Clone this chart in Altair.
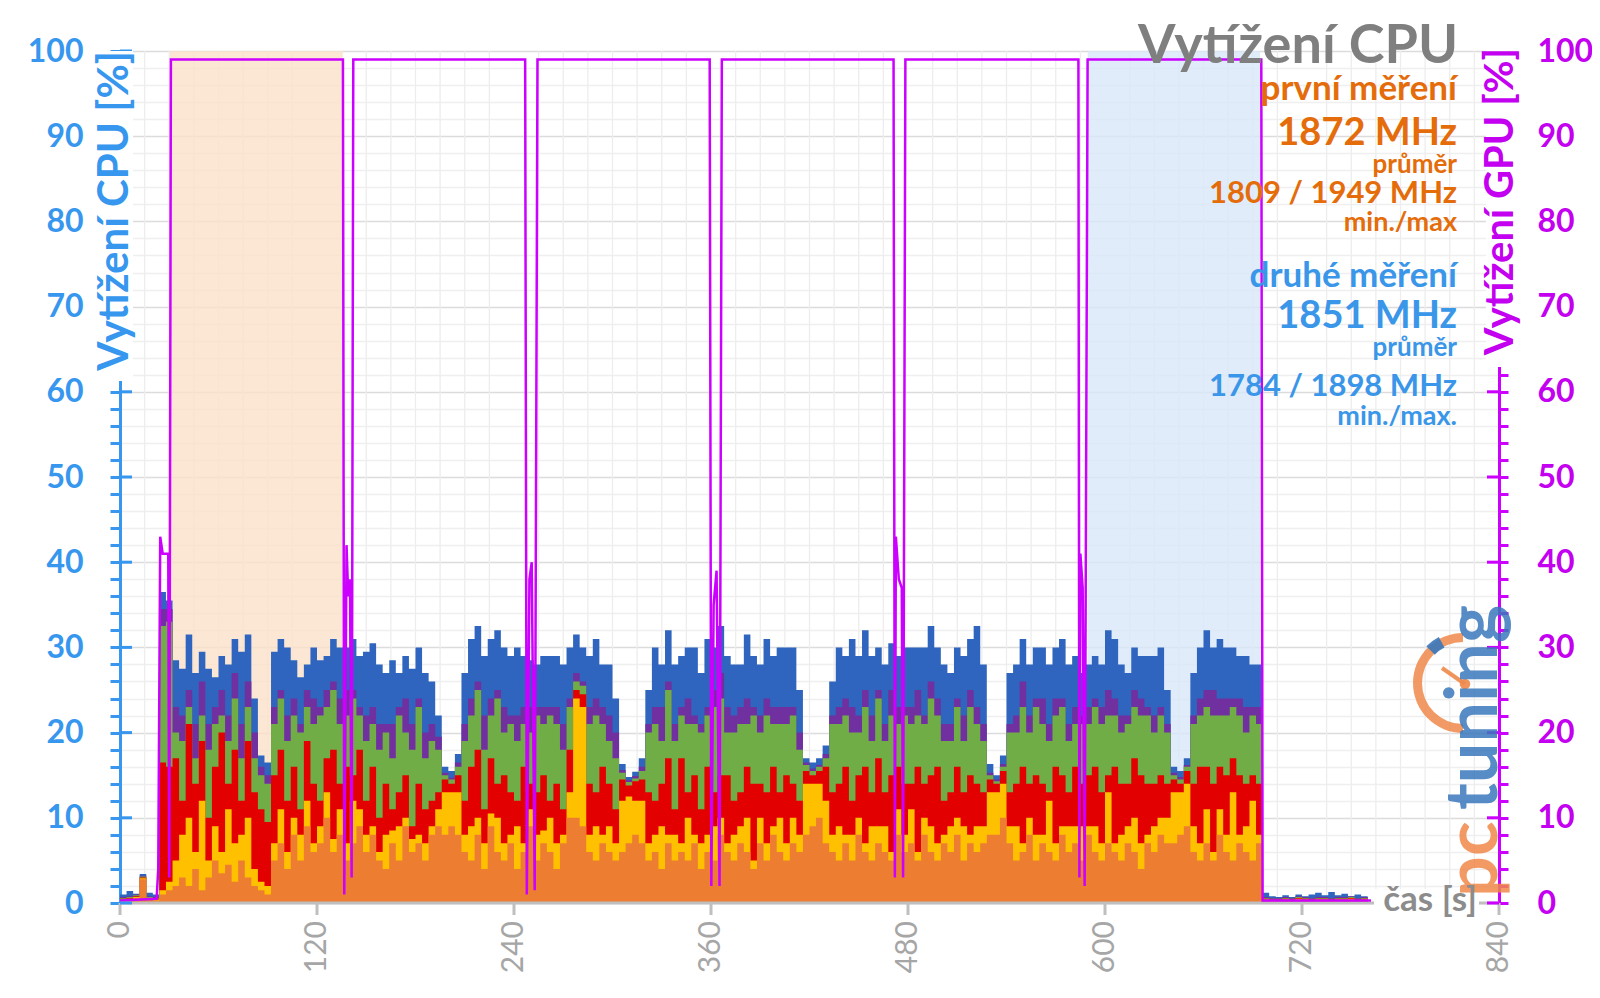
import math
import altair as alt
import pandas as pd

W, H = 1379, 852
X_DOMAIN = [0, 840]
Y_DOMAIN = [0, 100]

# sampling times (s)
t_sec = list(range(0, 761, 4))

# CPU load: upper edge of each stacked band (cumulative %), bottom band -> top band
top_orange = [0.3, 0.4, 0.6, 2.8, 0.4, 0.3,
              1, 1.5,
              2, 3, 2, 4, 1.5, 3, 5, 3.5, 4.5, 2.5, 5, 3, 2,
              1.5, 1,
              5, 7, 4, 8, 5, 9, 6, 7, 10, 6, 8, 5, 7, 9, 6, 8, 5, 4, 7, 5, 9, 6, 7, 5, 8, 9,
              8, 9, 8,
              6, 5, 8, 4, 9, 6, 5, 7, 4, 6, 9, 5, 7, 6, 4, 7, 10, 10, 9, 6, 5, 7, 6, 5,
              6, 7, 8, 7,
              5, 6, 4, 7, 5, 6, 5, 7, 4, 6, 5, 8, 6, 5, 7, 6, 4, 7, 5, 8, 6, 5, 7, 6,
              8, 9, 10, 7,
              6, 5, 7, 5, 8, 6, 5, 7, 6, 5, 8, 6, 7, 5, 8, 6, 5, 7, 6, 8, 5, 7, 6, 7,
              8, 8, 10,
              7, 5, 6, 8, 5, 7, 6, 5, 8, 6, 7, 5, 8, 6, 5, 7, 6, 5, 7, 6, 4, 7, 6, 8, 7,
              7, 8, 9,
              6, 5, 7, 5, 8, 6, 5, 7, 6, 5, 7,
              0.3, 0.2, 0.2, 0.3, 0.2, 0.2, 0.3, 0.2, 0.2, 0.3, 0.2, 0.2, 0.3, 0.2, 0.2, 0.3, 0.2]
top_yellow = [0.4, 0.5, 0.7, 2.9, 0.5, 0.4,
              1.5, 2.5,
              5, 8, 10, 6, 12, 5, 9, 6, 11, 7, 8, 10, 4,
              2.5, 2,
              7, 11, 6, 10, 8, 12, 7, 9, 13, 7.5, 11, 7, 12, 11, 8, 9, 6, 8, 8.5, 9, 10, 7.5, 8, 7, 9, 11,
              13, 13, 13,
              8, 9, 10, 7, 10.5, 10, 7, 8, 9, 7, 11, 8, 8.5, 10, 7, 8, 13, 24, 23, 8, 9, 8, 9, 7,
              12, 12.5, 12, 12,
              7, 8, 9, 8, 8, 7, 10, 8, 7, 8, 9, 10, 7, 8, 9, 10, 5, 10, 7, 9, 10, 7, 10, 8,
              14, 14, 14, 12,
              8, 9, 8, 8, 10, 7, 9, 9, 9, 6, 11, 8, 11, 6, 10, 9, 7, 8, 9, 10, 9, 8, 9, 9,
              13, 13, 14,
              9, 9, 7, 10, 8, 8, 12, 7, 9, 9, 9, 9, 9, 9, 7, 13, 7, 8, 9, 10, 7, 8, 9, 10, 10,
              13, 13, 14,
              9, 7, 11, 6, 11, 8, 13, 8, 9, 12, 8,
              0.4, 0.3, 0.3, 0.4, 0.3, 0.5, 0.4, 0.3, 0.4, 0.4, 0.3, 0.4, 0.4, 0.5, 0.3, 0.4, 0.4]
top_red = [0.5, 0.6, 0.8, 3.0, 0.6, 0.5,
           16.5, 16,
           17, 12, 21, 14, 19, 10, 16, 20, 14, 18, 12, 19, 13,
           11, 9.5,
           15, 18, 12, 16, 11, 19, 14, 12, 17, 18, 14, 16, 15, 18, 12, 16, 10, 14, 11, 13, 15, 9, 14, 11, 12, 13,
           14.5, 14, 15,
           12, 16, 18, 11, 17, 14, 15, 13, 12, 16, 14, 13, 15, 12, 14, 11, 18, 25, 24.5, 14, 13, 16, 14, 11,
           14.5, 13.8, 14.3, 14.5,
           13, 12, 14, 17, 11, 17, 13, 15, 11, 16, 13, 15, 15, 12, 13, 16, 14, 14, 13, 16, 13, 15, 14, 12,
           15.5, 15, 15.5, 16,
           13, 14, 16, 12, 15, 16, 13, 17, 13, 15, 16, 14, 14, 16, 14, 15, 16, 12, 13, 16, 13, 15, 14, 13,
           14.5, 14, 15.5,
           13, 14, 16, 14, 15, 14, 13, 16, 15, 13, 16, 14, 15, 16, 13, 15, 16, 14, 14, 17, 15, 14, 14, 15, 14,
           14.5, 14, 15.5,
           14, 16, 16, 14, 16, 15, 17, 15, 14, 15, 14,
           0.5, 0.4, 0.4, 0.5, 0.4, 0.6, 0.5, 0.4, 0.5, 0.5, 0.4, 0.5, 0.5, 0.6, 0.4, 0.5, 0.5]
top_green = [0.6, 0.7, 0.9, 3.1, 0.7, 0.6,
             32.5, 33,
             20, 19, 23, 17, 22, 18, 21, 22, 19, 24, 17, 23, 17,
             15, 14,
             21, 24, 19, 22, 20, 23, 21, 22, 23, 25, 21, 22, 24, 22, 19, 21, 18, 20, 17, 22, 20, 18, 23, 17, 19, 18,
             15, 14.5, 16,
             19, 22, 25, 18, 22, 24, 20, 21, 19, 21, 20, 22, 21, 22, 21, 18, 23, 26, 25.5, 21, 22, 21, 19, 17,
             15.3, 14.2, 14.6, 15.5,
             20, 21, 19, 25, 19, 22, 21, 21, 20, 22, 23, 24, 20, 20, 21, 21, 22, 20, 22, 21, 21, 21, 22, 18,
             16.2, 15.5, 16, 17,
             21, 21, 22, 20, 20, 23, 19, 24, 19, 22, 21, 22, 21, 22, 21, 24, 22, 19, 19, 23, 19, 23, 21, 19,
             15, 14.3, 16,
             20, 20, 23, 20, 23, 21, 19, 22, 23, 19, 21, 21, 21, 23, 21, 22, 22, 20, 21, 23, 22, 22, 20, 22, 20,
             15, 14.5, 16,
             21, 22, 23, 22, 22, 22, 23, 22, 20, 22, 21,
             0.6, 0.5, 0.5, 0.6, 0.5, 0.7, 0.6, 0.5, 0.6, 0.6, 0.5, 0.6, 0.6, 0.7, 0.5, 0.6, 0.6]
top_purple = [0.7, 0.8, 1.0, 3.2, 0.8, 0.7,
              34.5, 34.5,
              23, 22, 25, 21, 26, 21, 23, 25, 22, 27, 21, 26, 20,
              16, 15,
              23, 25, 22, 24, 21, 25, 24, 23, 25, 26, 24, 25, 25, 23, 22, 23, 21, 21, 21, 23, 24, 21, 24, 20, 21, 19.5,
              15.3, 14.7, 16.5,
              21, 24, 26, 22, 24, 25, 23, 22, 22, 23, 23, 23, 23, 23, 23, 21, 24, 27, 26, 23, 24, 23, 22, 20,
              15.6, 14.4, 14.9, 16,
              21, 23, 23, 26, 21, 23, 24, 22, 21, 23, 25, 27, 23, 22, 23, 24, 23, 22, 24, 23, 23, 23, 23, 20,
              16.5, 15.8, 16.2, 17.5,
              22, 23, 24, 23, 22, 25, 22, 25, 21, 25, 23, 23, 23, 25, 22, 26, 24, 21, 21, 24, 22, 25, 23, 21,
              15.3, 14.5, 16.3,
              21, 22, 26, 22, 24, 24, 21, 24, 24, 21, 23, 22, 23, 24, 23, 25, 24, 22, 22, 25, 24, 23, 22, 23, 21,
              15.3, 14.8, 16.2,
              22, 24, 25, 25, 24, 24, 24, 24, 23, 23, 23,
              0.7, 0.6, 0.6, 0.7, 0.6, 0.8, 0.7, 0.6, 0.7, 0.7, 0.6, 0.7, 0.7, 0.8, 0.6, 0.7, 0.7]
top_blue = [1.0, 1.4, 1.1, 3.4, 1.2, 1.0,
            36.5, 35.5,
            28.5, 27.5, 31.5, 27, 29.5, 27.5, 26.5, 29, 28, 31, 29.5, 31.5, 24,
            17.3, 16.5,
            29.5, 31, 30, 28.5, 26.5, 28, 30, 28.5, 29, 31, 30, 30, 31, 29, 29.5, 30.5, 28, 27, 28.5, 27, 29, 27.5, 30, 27, 26, 22,
            16, 15.5, 17.5,
            27, 31, 32.5, 29, 31, 32, 30, 29, 30, 29, 28.5, 28, 29, 29, 29, 28, 30, 31.5, 30, 29, 31, 28, 28, 24,
            16.3, 14.8, 15.4, 17,
            25, 30, 28, 32, 28, 29, 30, 30, 27, 31, 30, 32.5, 29, 28, 28, 31.5, 29, 28, 31, 29, 30, 30, 30, 25,
            17, 16.5, 17, 18.5,
            26, 30, 29, 31, 29, 32, 29, 30, 28, 30.5, 29, 30, 30, 30, 30, 32.5, 30, 28, 27, 30, 29, 31, 32.5, 28,
            16.3, 15, 17.3,
            27, 28, 31, 28, 30, 30, 28, 30, 31, 28, 29, 27, 28, 29, 28, 32, 31, 28, 27, 30, 29, 29, 29, 30, 25,
            16, 15.5, 17,
            27, 30, 32, 30, 31, 30, 30, 29, 29, 28, 28,
            1.2, 0.8, 0.7, 0.9, 0.7, 1.0, 0.8, 1.0, 1.2, 0.9, 1.3, 0.9, 1.1, 0.8, 1.0, 0.8, 1.1]

# drawn back to front (top band first)
bands_tops = [("B", top_blue, "#2F65BE"), ("P", top_purple, "#7030A0"),
              ("G", top_green, "#70AD47"), ("R", top_red, "#E30000"),
              ("Y", top_yellow, "#FFC000"), ("O", top_orange, "#ED7D31")]

# GPU load (%)
gpu_t = [0, 22.3, 23.3, 24.5, 26.0, 29.4, 30.0, 31.0,
         135.8, 136.6, 138.0, 139.0, 140.1, 141.1, 142.1,
         246.8, 247.8, 249.4, 250.8, 252.6, 254.3,
         359.2, 360.2, 361.6, 363.4, 365.2, 366.6,
         471.2, 472.0, 472.6, 474.4, 476.2, 477.0, 478.4,
         583.8, 584.4, 585.0, 586.4, 587.6, 589.4,
         695.2, 696.0, 762]
gpu_v = [0.3, 0.5, 4, 43, 41, 41, 3, 99,
         99, 1, 42, 36, 38, 3, 99,
         99, 1, 38, 40, 1.5, 99,
         99, 2, 35, 39, 2, 99,
         99, 3, 43, 38, 37, 3, 99,
         99, 3, 41, 37, 2, 99,
         99, 0.3, 0.3]

# highlighted measurement windows
band_start = [30.4, 589.5]
band_end = [135.6, 694.5]
band_colors = ["#FBE1CA", "#D8E7F9"]

x_major = list(range(0, 841, 120))
x_minor = [v for v in range(0, 841, 15) if v % 120 != 0]
y_ticks = list(range(0, 101, 2))
y_major = list(range(0, 101, 10))

BLUE_AX = "#3797EF"
MAG = "#CC00FF"
MAG_TXT = "#C400F0"
ORANGE_TXT = "#E46C0A"
BLUE_TXT = "#3A96E8"
GRAY_AX = "#BFBFBF"
FONT = "Lato"

# ---------- data frames ----------
n = min(len(t_sec), *[len(v) for _, v, _ in bands_tops])
cpu_df = pd.DataFrame({"t": t_sec[:n], **{k: v[:n] for k, v, _ in bands_tops}})
gpu_df = pd.DataFrame({"t": gpu_t, "v": gpu_v})
band_df = pd.DataFrame({"s": band_start, "e": band_end, "c": band_colors,
                        "lo": [0, 0], "hi": [100, 100]})
major_df = pd.DataFrame({"v": y_major})
xminor_df = pd.DataFrame({"x": x_minor})
xmajor_df = pd.DataFrame({"x": x_major, "s": [str(v) for v in x_major]})

xs = alt.Scale(domain=X_DOMAIN, nice=False, zero=False)
ys = alt.Scale(domain=Y_DOMAIN, nice=False)

# x axis: grid only here; ticks, line and labels drawn below as marks
x_axis = alt.Axis(values=x_major, grid=True, gridColor="#D6D6D6", gridWidth=1.3,
                  labels=False, ticks=False, domain=False, title=None)

y_axis_left = alt.Axis(
    values=y_ticks,
    labelExpr="datum.value % 10 === 0 ? datum.label : ''",
    labelFont=FONT, labelFontSize=32, labelFontWeight="bold", labelColor=BLUE_AX,
    labelPadding=27, labelOverlap=False,
    tickSize=10, tickWidth=3, tickColor=BLUE_AX,
    grid=True,
    gridColor={"condition": {"test": "datum.value % 10 === 0", "value": "#DCDCDC"},
               "value": "#EFEFEF"},
    gridWidth=1.3,
    domainColor=BLUE_AX, domainWidth=3, title=None,
)

y_axis_right = alt.Axis(
    orient="right", values=y_ticks,
    labelExpr="datum.value % 10 === 0 ? datum.label : ''",
    labelFont=FONT, labelFontSize=32, labelFontWeight="bold", labelColor=MAG_TXT,
    labelPadding=29, labelOverlap=False,
    tickSize=9, tickWidth=3, tickColor=MAG,
    grid=False, domainColor=MAG, domainWidth=3, title=None,
)

minor_grid = alt.Chart(xminor_df).mark_rule(color="#EDEDED", strokeWidth=1.3).encode(
    x=alt.X("x:Q", scale=xs, axis=None), y=alt.value(0), y2=alt.value(H))

bands = alt.Chart(band_df).mark_rect(opacity=0.8).encode(
    x=alt.X("s:Q", scale=xs, axis=None), x2="e:Q",
    y=alt.Y("lo:Q", scale=ys, axis=None), y2="hi:Q",
    color=alt.Color("c:N", scale=None),
)

cpu_layers = []
for i, (key, _, col) in enumerate(bands_tops):
    first = i == 0
    cpu_layers.append(
        alt.Chart(cpu_df).mark_area(interpolate="step-after", color=col).encode(
            x=alt.X("t:Q", scale=xs, axis=x_axis if first else None),
            y=alt.Y(f"{key}:Q", scale=ys, axis=y_axis_left if first else None),
        )
    )

one = pd.DataFrame({"s": [""]})

x_domain = alt.Chart(one).mark_rule(color=GRAY_AX, strokeWidth=3).encode(
    x=alt.value(0), x2=alt.value(W), y=alt.value(H))
x_tick_marks = alt.Chart(xmajor_df).mark_rule(color=GRAY_AX, strokeWidth=3).encode(
    x=alt.X("x:Q", scale=xs, axis=None), y=alt.value(H), y2=alt.value(H + 12))
x_labels = alt.Chart(xmajor_df).mark_text(
    angle=270, align="right", baseline="middle", font=FONT, fontSize=30,
    color="#A6A6A6").encode(
    x=alt.X("x:Q", scale=xs, axis=None), y=alt.value(H + 18), text="s:N")

gpu = alt.Chart(gpu_df).mark_line(color=MAG, strokeWidth=2.5).encode(
    x=alt.X("t:Q", scale=xs, axis=None),
    y=alt.Y("v:Q", scale=ys, axis=y_axis_right),
)

left_in = alt.Chart(major_df).mark_rule(color=BLUE_AX, strokeWidth=3).encode(
    y=alt.Y("v:Q", scale=ys, axis=None), x=alt.value(0), x2=alt.value(12))
right_in = alt.Chart(major_df).mark_rule(color=MAG, strokeWidth=3).encode(
    y=alt.Y("v:Q", scale=ys, axis=None), x=alt.value(W - 12), x2=alt.value(W))


def mask(x1, y1, x2, y2):
    return alt.Chart(one).mark_rect(color="white").encode(
        x=alt.value(x1), x2=alt.value(x2), y=alt.value(y1), y2=alt.value(y2))


def label(text, x, y, size, color, align="right", angle=0, baseline="alphabetic",
          weight="bold", opacity=1.0):
    d = pd.DataFrame({"s": [text]})
    return alt.Chart(d).mark_text(color=color, opacity=opacity, align=align,
                                  baseline=baseline, font=FONT, fontSize=size,
                                  fontWeight=weight, angle=angle).encode(
        text="s:N", x=alt.value(x), y=alt.value(y))


# masks where the titles sit on the axis lines
masks = [mask(-12, 0, 13, 330), mask(W - 13, -4, W + 12, 316), mask(1254, 838, 1359, 862)]

# logo (pctuning)
LOGO_O = "#F0884A"
LOGO_B = "#3A78BD"
logo = [
    alt.Chart(one).mark_arc(theta=math.pi, theta2=2 * math.pi, innerRadius=41,
                            outerRadius=50, color=LOGO_O, opacity=0.85)
    .encode(x=alt.value(1343), y=alt.value(632)),
    alt.Chart(one).mark_arc(theta=5.5, theta2=5.8, innerRadius=40, outerRadius=52,
                            color=LOGO_B, opacity=0.9)
    .encode(x=alt.value(1343), y=alt.value(632)),
    alt.Chart(one).mark_rule(color=LOGO_O, strokeWidth=4, opacity=0.9)
    .encode(x=alt.value(1322), y=alt.value(617), x2=alt.value(1345), y2=alt.value(633)),
    alt.Chart(one).mark_circle(color=LOGO_O, size=110, opacity=0.9)
    .encode(x=alt.value(1345), y=alt.value(633)),
    label("pc", 1377, 846, 72, LOGO_O, align="left", angle=270, opacity=0.85),
    label("tuning", 1377, 759, 72, LOGO_B, align="left", angle=270, opacity=0.85),
]

texts = [
    label("Vytížení CPU [%]", -5, 0, 42, BLUE_AX, align="right", angle=270, baseline="middle"),
    label("Vytížení GPU [%]", W + 2, -3, 40, MAG_TXT, align="right", angle=270, baseline="middle"),
    label("čas [s]", 1357, 849, 35, "#8C8C8C", align="right", baseline="middle"),
    label("Vytížení CPU", 1338, 12, 54, "#7F7F7F"),
    label("první měření", 1337, 49, 35, ORANGE_TXT),
    label("1872 MHz", 1337, 94, 38, ORANGE_TXT),
    label("průměr", 1337, 122, 26, ORANGE_TXT),
    label("1809 / 1949 MHz", 1337, 152, 31, ORANGE_TXT),
    label("min./max", 1337, 180, 27, ORANGE_TXT),
    label("druhé měření", 1337, 236, 35, BLUE_TXT),
    label("1851 MHz", 1337, 277, 38, BLUE_TXT),
    label("průměr", 1337, 305, 26, BLUE_TXT),
    label("1784 / 1898 MHz", 1337, 345, 31, BLUE_TXT),
    label("min./max.", 1337, 374, 27, BLUE_TXT),
]

chart = alt.layer(
    minor_grid, bands, *cpu_layers, x_domain, x_tick_marks, gpu, left_in, right_in,
    *masks, *logo, *texts, x_labels
).resolve_axis(y="independent").properties(
    width=W, height=H,
    padding={"left": 112, "top": 43, "right": 93, "bottom": 80},
    autosize=alt.AutoSizeParams(type="none"),
    background="white",
).configure_view(stroke=None)

chart.save("out.html", embed_options={"renderer": "svg", "actions": False})
